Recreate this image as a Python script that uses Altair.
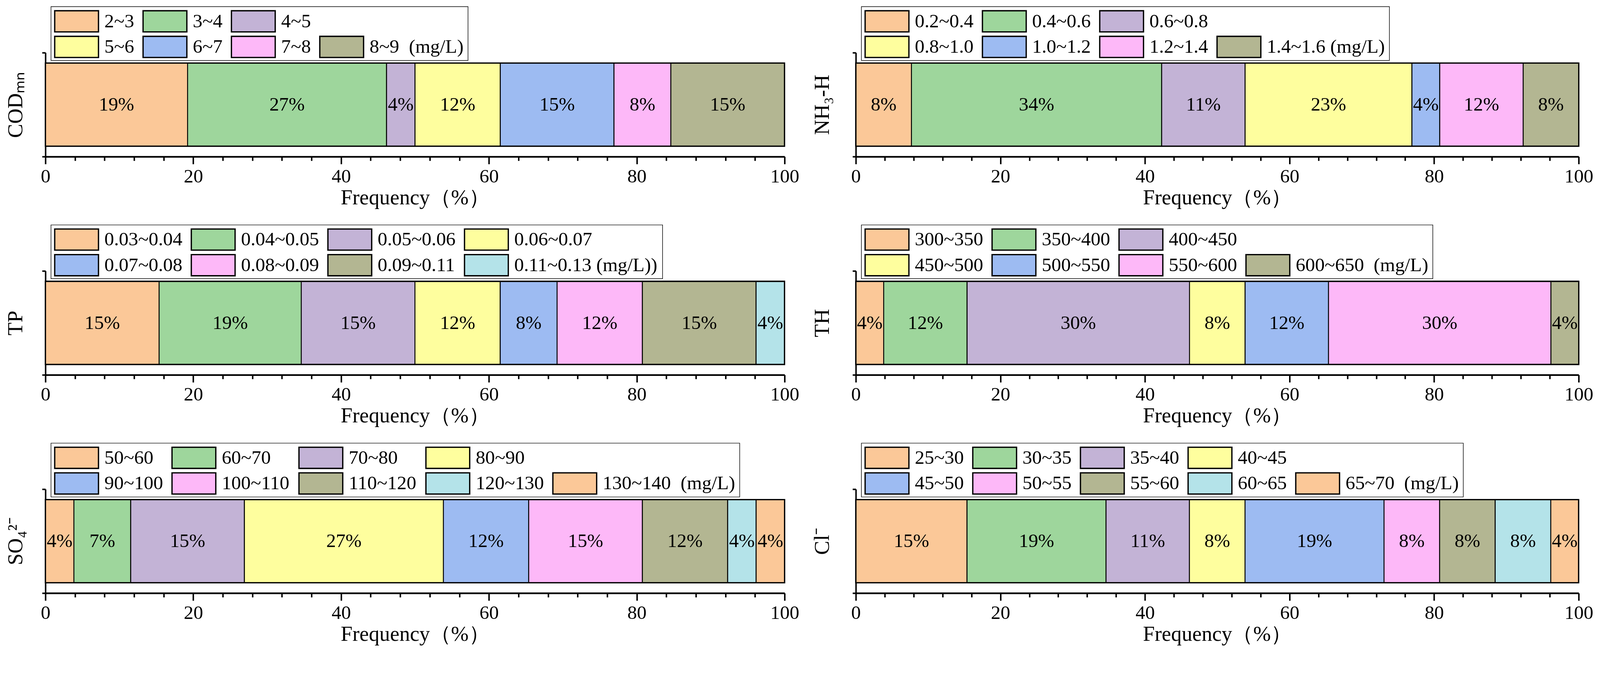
import altair as alt
import pandas as pd

FONT = "Liberation Serif"
XTITLE = "Frequency（%）"

# fill colours, one per class, in legend order
palette = ["#FBC898", "#9ED69C", "#C3B3D6", "#FEFE9E", "#9DBBF2",
           "#FDB8F8", "#B3B692", "#B4E3E9", "#FBC898"]

# ---- data: class ranges, bar widths (% of samples) and printed labels ----
cod_ranges = ["2~3", "3~4", "4~5", "5~6", "6~7", "7~8", "8~9"]
cod_freq = [19.23, 26.92, 3.85, 11.54, 15.38, 7.69, 15.38]
cod_text = ["19%", "27%", "4%", "12%", "15%", "8%", "15%"]

nh3_ranges = ["0.2~0.4", "0.4~0.6", "0.6~0.8", "0.8~1.0", "1.0~1.2", "1.2~1.4", "1.4~1.6"]
nh3_freq = [7.69, 34.62, 11.54, 23.08, 3.85, 11.54, 7.69]
nh3_text = ["8%", "34%", "11%", "23%", "4%", "12%", "8%"]

tp_ranges = ["0.03~0.04", "0.04~0.05", "0.05~0.06", "0.06~0.07",
             "0.07~0.08", "0.08~0.09", "0.09~0.11", "0.11~0.13"]
tp_freq = [15.38, 19.23, 15.38, 11.54, 7.69, 11.54, 15.38, 3.85]
tp_text = ["15%", "19%", "15%", "12%", "8%", "12%", "15%", "4%"]

th_ranges = ["300~350", "350~400", "400~450", "450~500", "500~550", "550~600", "600~650"]
th_freq = [3.85, 11.54, 30.77, 7.69, 11.54, 30.77, 3.85]
th_text = ["4%", "12%", "30%", "8%", "12%", "30%", "4%"]

so4_ranges = ["50~60", "60~70", "70~80", "80~90", "90~100",
              "100~110", "110~120", "120~130", "130~140"]
so4_freq = [3.85, 7.69, 15.38, 26.92, 11.54, 15.38, 11.54, 3.85, 3.85]
so4_text = ["4%", "7%", "15%", "27%", "12%", "15%", "12%", "4%", "4%"]

cl_ranges = ["25~30", "30~35", "35~40", "40~45", "45~50",
             "50~55", "55~60", "60~65", "65~70"]
cl_freq = [15.38, 19.23, 11.54, 7.69, 19.23, 7.69, 7.69, 7.69, 3.85]
cl_text = ["15%", "19%", "11%", "8%", "19%", "8%", "8%", "8%", "4%"]

NB = "\u00a0"

# ---- layout constants ----
HEIGHT = 280
W_LEFT, W_RIGHT = 1992, 1948
SW, SH = 118, 57          # legend swatch
GAP_TXT, GAP_COL = 16, 24
LEG_FS = 52
BOX_TOP, BOX_BOT = -124, 21
ROW_TOP = [-113, -44]
BOX_LEFT, BOX_PAD = 15, 10

# Times-like advance widths (em) for sizing legend columns
CHAR_W = {".": 0.25, "~": 0.541, " ": 0.25, NB: 0.25, "(": 0.333, ")": 0.333,
          "m": 0.778, "g": 0.5, "/": 0.278, "L": 0.611}


def text_w(s):
    return sum(CHAR_W.get(ch, 0.5) for ch in s) * LEG_FS


def legend_tables(ranges, colors, n_first, unit):
    labels = ranges[:-1] + [ranges[-1] + unit]
    cells = [(0, i) for i in range(n_first)] + [(1, i) for i in range(len(ranges) - n_first)]
    ncol = max(c for _, c in cells) + 1
    col_w = [max(text_w(ranges[k]) for k, (r, c) in enumerate(cells) if c == j) for j in range(ncol)]
    starts = [BOX_LEFT + BOX_PAD]
    for j in range(ncol - 1):
        starts.append(starts[-1] + SW + GAP_TXT + col_w[j] + GAP_COL)
    recs = []
    for k, (r, c) in enumerate(cells):
        x0, y0 = starts[c], ROW_TOP[r]
        recs.append(dict(label=labels[k], color=colors[k], sx0=x0, sx1=x0 + SW,
                         sy0=y0, sy1=y0 + SH, tx=x0 + SW + GAP_TXT, ty=y0 + SH / 2))
    right = max(d["tx"] + text_w(d["label"]) for d in recs) + 12
    box = pd.DataFrame([dict(bx0=BOX_LEFT, bx1=right, by0=BOX_TOP, by1=BOX_BOT)])
    return pd.DataFrame(recs), box


def panel(name, title, ranges, freq, text, n_first, unit, width, title_pad):
    colors = palette[:len(ranges)]
    df = pd.DataFrame({"panel": name, "range": ranges, "freq": freq,
                       "text": text, "color": colors})
    df["end"] = df["freq"].cumsum()
    df["start"] = df["end"] - df["freq"]
    df["mid"] = (df["start"] + df["end"]) / 2

    x_axis = alt.Axis(
        values=list(range(0, 101, 4)),
        labelExpr="datum.value % 20 === 0 ? datum.label : ''",
        tickSize={"condition": {"test": "datum.value % 20 === 0", "value": 20}, "value": 11},
        tickWidth=4, tickColor="black", domainWidth=4.5, domainColor="black",
        labelFont=FONT, labelFontSize=52, labelColor="black", labelPadding=8,
        labelFlush=False, titleFont=FONT, titleFontSize=57, titleFontWeight="normal",
        titleColor="black", titlePadding=4, grid=False)
    y_axis = alt.Axis(
        labels=False, tickBand="extent", tickSize=9, tickWidth=4, tickColor="black",
        domainWidth=4, domainColor="black", grid=False,
        titleFont=FONT, titleFontSize=57, titleFontWeight="normal",
        titleColor="black", titlePadding=title_pad)
    xs = alt.Scale(domain=[0, 100], nice=False)
    ys = alt.Scale(paddingInner=0, paddingOuter=0)
    y = alt.Y("panel:N", scale=ys, axis=y_axis, title=title)

    base = alt.Chart(df)
    bars = base.mark_bar(height={"band": 0.8}, stroke="black", strokeWidth=2.5).encode(
        x=alt.X("start:Q", scale=xs, axis=x_axis, title=XTITLE),
        x2="end:Q", y=y, fill=alt.Fill("color:N", scale=None))
    frame = base.transform_aggregate(
        lo="min(start)", hi="max(end)", groupby=["panel"]
    ).mark_bar(height={"band": 0.8}, fillOpacity=0, stroke="black", strokeWidth=3.5).encode(
        x=alt.X("lo:Q", scale=xs, axis=x_axis, title=XTITLE), x2="hi:Q", y=y)
    pct = base.mark_text(font=FONT, fontSize=52, color="black", baseline="middle").encode(
        x=alt.X("mid:Q", scale=xs, axis=x_axis, title=XTITLE), y=y, text="text:N")
    main = alt.layer(bars, frame, pct)

    items, box = legend_tables(ranges, colors, n_first, unit)
    lxs = alt.Scale(domain=[0, width], range=[0, width], nice=False, zero=False)
    lys = alt.Scale(domain=[0, HEIGHT], range=[0, HEIGHT], nice=False, zero=False)
    box_l = alt.Chart(box).mark_rect(fill="white", stroke="black", strokeWidth=1.5).encode(
        x=alt.X("bx0:Q", scale=lxs, axis=None), x2="bx1:Q",
        y=alt.Y("by0:Q", scale=lys, axis=None), y2="by1:Q")
    sw_l = alt.Chart(items).mark_rect(stroke="black", strokeWidth=3.5).encode(
        x=alt.X("sx0:Q", scale=lxs, axis=None), x2="sx1:Q",
        y=alt.Y("sy0:Q", scale=lys, axis=None), y2="sy1:Q",
        fill=alt.Fill("color:N", scale=None))
    tx_l = alt.Chart(items).mark_text(align="left", baseline="middle", font=FONT,
                                      fontSize=LEG_FS, color="black").encode(
        x=alt.X("tx:Q", scale=lxs, axis=None),
        y=alt.Y("ty:Q", scale=lys, axis=None), text="label:N")
    legend = alt.layer(box_l, sw_l, tx_l)

    return alt.layer(main, legend).resolve_scale(
        x="independent", y="independent").properties(width=width, height=HEIGHT)


p_cod = panel("COD", "COD\u2098\u2099", cod_ranges, cod_freq, cod_text, 3,
              NB + NB + "(mg/L)", W_LEFT, 40)
p_nh3 = panel("NH3", "NH\u2083-H", nh3_ranges, nh3_freq, nh3_text, 3,
              " (mg/L)", W_RIGHT, 50)
p_tp = panel("TP", "TP", tp_ranges, tp_freq, tp_text, 4,
             " (mg/L))", W_LEFT, 40)
p_th = panel("TH", "TH", th_ranges, th_freq, th_text, 3,
             NB + NB + "(mg/L)", W_RIGHT, 50)
p_so4 = panel("SO4", "SO\u2084\u00b2\u207b", so4_ranges, so4_freq, so4_text, 4,
              NB + NB + "(mg/L)", W_LEFT, 40)
p_cl = panel("Cl", "Cl\u207b", cl_ranges, cl_freq, cl_text, 4,
             NB + NB + "(mg/L)", W_RIGHT, 50)

chart = alt.vconcat(
    alt.hconcat(p_cod, p_nh3, spacing=34),
    alt.hconcat(p_tp, p_th, spacing=34),
    alt.hconcat(p_so4, p_cl, spacing=34),
    spacing=44,
).properties(
    padding={"left": 5, "top": -36, "right": 10, "bottom": 5},
    background="white",
).configure_view(stroke=None)

chart.save("out.html", embed_options={"renderer": "svg", "actions": False})
